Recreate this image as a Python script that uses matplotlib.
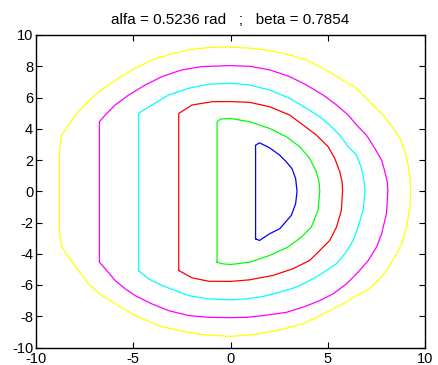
import matplotlib
matplotlib.use("Agg")
import matplotlib.pyplot as plt

plt.rcParams['font.family'] = ['Liberation Sans', 'DejaVu Sans']
plt.rcParams['axes.unicode_minus'] = False

title = "alfa = 0.5236 rad   ;   beta = 0.7854"
x_ticks = [-10, -5, 0, 5, 10]
y_ticks = [-10, -8, -6, -4, -2, 0, 2, 4, 6, 8, 10]

blue_x = [1.29, 1.29, 1.49, 2.01, 2.53, 2.87, 3.16, 3.35, 3.42, 3.35, 3.13, 2.53, 2.01, 1.49, 1.29]
blue_y = [-3.04, 2.95, 3.10, 2.78, 2.31, 1.88, 1.45, 0.81, 0.0, -0.79, -1.54, -2.40, -2.72, -3.15, -3.04]

green_x = [-0.69, -0.69, -0.52, 0.0, 0.98, 2.01, 2.87, 3.56, 4.07, 4.42, 4.55, 4.59, 4.50, 4.16, 3.64,
           2.96, 2.01, 0.98, 0.0, -0.43, -0.69]
green_y = [-4.54, 4.45, 4.62, 4.66, 4.45, 4.02, 3.49, 2.85, 2.10, 1.24, 0.60, 0.0, -1.22, -2.29, -2.93,
           -3.57, -4.11, -4.54, -4.69, -4.64, -4.54]

red_x = [-2.66, -2.66, -1.98, -0.95, 0.0, 0.98, 2.01, 3.04, 3.73, 4.42, 5.02, 5.36, 5.62, 5.74, 5.76,
         5.70, 5.45, 5.10, 4.59, 4.07, 3.21, 2.18, 0.98, 0.0, -1.12, -1.98, -2.66]
red_y = [-5.07, 4.98, 5.52, 5.73, 5.74, 5.69, 5.41, 4.88, 4.24, 3.59, 2.85, 2.10, 1.24, 0.60, 0.0,
         -1.22, -2.29, -3.15, -3.79, -4.43, -4.96, -5.39, -5.67, -5.77, -5.76, -5.54, -5.07]

cyan_x = [-4.73, -4.73, -4.04, -3.18, -2.15, -1.12, 0.0, 0.98, 2.01, 3.04, 3.90, 4.59, 5.10, 5.62,
          6.05, 6.48, 6.74, 6.87, 6.91, 6.82, 6.56, 6.31, 5.88, 5.45, 4.93, 4.24, 3.38, 2.53, 1.67,
          0.81, 0.0, -1.12, -2.15, -2.84, -3.52, -4.21, -4.73]
cyan_y = [-5.07, 4.98, 5.52, 6.16, 6.59, 6.85, 6.91, 6.80, 6.48, 5.95, 5.31, 4.77, 4.24, 3.59,
          2.85, 2.31, 1.45, 0.60, 0.0, -1.22, -2.29, -3.15, -4.00, -4.64, -5.07, -5.61, -6.14, -6.46, -6.74,
          -6.89, -6.95, -6.89, -6.68, -6.35, -6.03, -5.61, -5.07]

magenta_x = [-6.74, -6.74, -6.44, -5.93, -5.24, -4.38, -3.52, -2.49, -1.46, 0.0, 0.98, 2.01, 3.04,
             3.90, 4.76, 5.45, 6.05, 6.48, 6.99, 7.42, 7.77, 7.94, 8.06, 8.09, 8.02, 7.77, 7.51, 7.08,
             6.56, 5.96, 5.27, 4.59, 3.73, 2.87, 1.67, 0.81, 0.0, -1.12, -2.15, -3.18, -4.04, -4.90,
             -5.41, -5.93, -6.44, -6.74]
magenta_y = [-4.54, 4.45, 4.88, 5.52, 6.16, 6.80, 7.34, 7.77, 7.98, 8.04, 8.00, 7.77, 7.34,
             6.80, 6.16, 5.52, 4.88, 4.24, 3.59, 2.74, 1.99, 1.24, 0.60, 0.0, -1.43, -2.72, -3.57, -4.43,
             -5.18, -5.93, -6.57, -7.00, -7.42, -7.75, -7.96, -8.07, -8.09, -8.07, -7.96, -7.64, -7.21, -6.68,
             -6.25, -5.71, -4.96, -4.54]

yellow_x = [-8.80, -8.80, -8.68, -8.33, -7.82, -7.13, -6.53, -5.76, -4.90, -4.04, -3.18, -2.15, -1.12,
            0.0, 0.98, 2.01, 3.04, 3.90, 4.76, 5.62, 6.48, 7.16, 7.85, 8.37, 8.71, 8.97, 9.14, 9.23, 9.26,
            9.23, 9.05, 8.80, 8.45, 8.02, 7.51, 6.99, 6.48, 5.79, 5.10, 4.42, 3.73, 3.04, 2.18, 1.15, 0.0,
            -1.46, -2.66, -3.69, -4.90, -5.76, -6.62, -7.30, -7.82, -8.33, -8.68, -8.80]
yellow_y = [-2.50, 2.52, 3.59, 4.24, 5.09, 5.95, 6.59, 7.23, 7.87, 8.41, 8.73, 9.05, 9.20,
            9.22, 9.16, 9.01, 8.73, 8.41, 7.87, 7.23, 6.59, 5.73, 4.88, 4.02, 3.38, 2.52, 1.67, 0.81, 0.0,
            -1.01, -2.29, -3.36, -4.21, -5.07, -5.82, -6.35, -6.67, -7.21, -7.64, -8.07, -8.49, -8.71, -8.96,
            -9.18, -9.29, -9.18, -8.92, -8.60, -7.96, -7.32, -6.68, -5.93, -5.07, -4.21, -3.57, -2.50]

curves = [
    (blue_x, blue_y, '#0000ff'),
    (green_x, green_y, '#00ff00'),
    (red_x, red_y, '#ff0000'),
    (cyan_x, cyan_y, '#00ffff'),
    (magenta_x, magenta_y, '#ff00ff'),
    (yellow_x, yellow_y, '#ffff00'),
]

fig = plt.figure(figsize=(4.38, 3.65), dpi=100)
ax = fig.add_axes([36 / 438, 1 - 347.5 / 365, 389 / 438, 312.5 / 365])
for cx, cy, col in curves:
    ax.plot(cx, cy, color=col, linewidth=0.9)

ax.set_xlim(-10, 10)
ax.set_ylim(-10, 10)
ax.set_xticks(x_ticks)
ax.set_yticks(y_ticks)
ax.set_xticklabels([str(v) for v in x_ticks])
ax.set_yticklabels([str(v) for v in y_ticks])
ax.tick_params(direction='in', length=4, width=0.8, top=True, right=True,
               labelsize=10.5, colors='black')
ax.tick_params(axis='x', pad=3.5)
ax.tick_params(axis='y', pad=2)
for s in ax.spines.values():
    s.set_linewidth(1.0)
    s.set_color('black')
ax.set_title(title, fontsize=11, pad=8)

fig.savefig('out.png', dpi=100)
